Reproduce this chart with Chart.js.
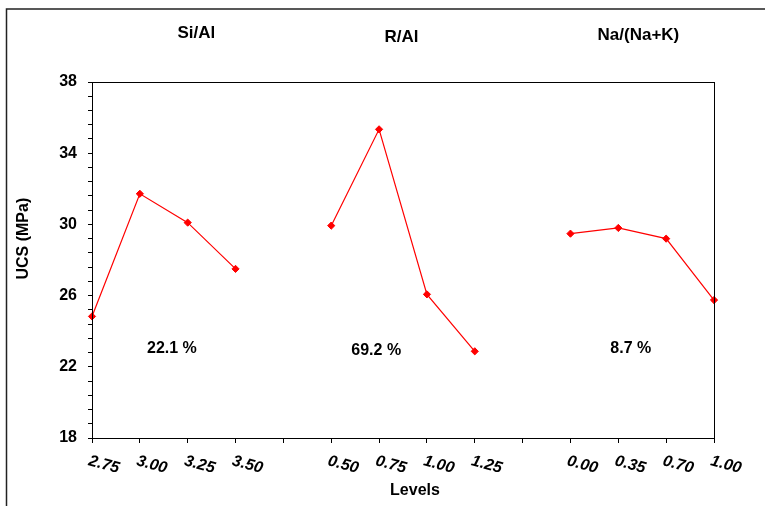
<!DOCTYPE html>
<html>
<head>
<meta charset="utf-8">
<script src="https://cdn.jsdelivr.net/npm/chart.js@4.4.1/dist/chart.umd.min.js"></script>
<style>
  html, body { margin: 0; padding: 0; background: #ffffff; }
  #wrap { width: 765px; height: 506px; position: relative; }
</style>
</head>
<body>
<div id="wrap"><canvas id="c" width="765" height="506"></canvas></div>
<script>
// ---- data ----
const siAlLevels = ['2.75', '3.00', '3.25', '3.50'];
const siAlUcs    = [24.83, 31.72, 30.10, 27.50];
const rAlLevels  = ['0.50', '0.75', '1.00', '1.25'];
const rAlUcs     = [29.93, 35.34, 26.07, 22.87];
const naLevels   = ['0.00', '0.35', '0.70', '1.00'];
const naUcs      = [29.48, 29.80, 29.20, 25.75];
const groupTitles = ['Si/Al', 'R/Al', 'Na/(Na+K)'];
const contributions = ['22.1 %', '69.2 %', '8.7 %'];
const xTitle = 'Levels';
const yTitle = 'UCS (MPa)';

// build category table (a blank slot separates each factor)
const labels = [...siAlLevels, '', ...rAlLevels, '', ...naLevels];
const values = [...siAlUcs, null, ...rAlUcs, null, ...naUcs];

// annotation placements (scale units)
const titleIdx = [2.18, 6.47, 11.42];
const titleY = [33, 37.5, 35];
const pctIdx = [1.67, 5.94, 11.26];
const pctVal = [23.05, 22.9, 23.05];

const FONT = '"Liberation Sans", Arial, sans-serif';

const decor = {
  id: 'decor',
  beforeDraw(chart) {
    const ctx = chart.ctx;
    ctx.save();
    ctx.fillStyle = '#fff';
    ctx.fillRect(0, 0, chart.width, chart.height);
    // outer frame (cropped figure box)
    ctx.strokeStyle = '#222';
    ctx.lineWidth = 1.5;
    ctx.beginPath();
    ctx.moveTo(6.5, chart.height);
    ctx.lineTo(6.5, 9);
    ctx.lineTo(chart.width, 9);
    ctx.stroke();
    ctx.restore();
  },
  afterDraw(chart) {
    const ctx = chart.ctx;
    const a = chart.chartArea;
    const xs = chart.scales.x, ys = chart.scales.y;
    ctx.save();
    // plot box
    ctx.strokeStyle = '#000';
    ctx.lineWidth = 1;
    ctx.strokeRect(a.left + 0.5, a.top + 0.5, a.right - a.left, a.bottom - a.top);
    // x tick labels, rotated, bold italic
    ctx.fillStyle = '#000';
    ctx.font = 'italic bold 16px ' + FONT;
    ctx.textAlign = 'left';
    ctx.textBaseline = 'top';
    labels.forEach((lab, i) => {
      if (!lab) return;
      const x = xs.getPixelForTick(i);
      ctx.save();
      ctx.translate(x - 1, a.bottom + 15);
      ctx.rotate(15 * Math.PI / 180);
      ctx.fillText(lab, 0, 0);
      ctx.restore();
    });
    // group titles
    ctx.font = 'bold 17px ' + FONT;
    ctx.textAlign = 'center';
    ctx.textBaseline = 'middle';
    groupTitles.forEach((t, i) => {
      ctx.fillText(t, xs.getPixelForValue(titleIdx[i]), titleY[i]);
    });
    // contribution percentages
    ctx.font = 'bold 16px ' + FONT;
    contributions.forEach((t, i) => {
      ctx.fillText(t, xs.getPixelForValue(pctIdx[i]), ys.getPixelForValue(pctVal[i]));
    });
    // axis titles
    ctx.font = 'bold 16px ' + FONT;
    ctx.fillText(xTitle, xs.getPixelForValue(6.75), 491);
    ctx.save();
    ctx.translate(24, ys.getPixelForValue(29.2));
    ctx.rotate(-Math.PI / 2);
    ctx.fillText(yTitle, 0, 0);
    ctx.restore();
    ctx.restore();
  }
};

new Chart(document.getElementById('c'), {
  type: 'line',
  data: {
    labels: labels,
    datasets: [{
      data: values,
      borderColor: '#ff0000',
      backgroundColor: '#ff0000',
      borderWidth: 1.2,
      pointStyle: 'rectRot',
      pointRadius: 3.6,
      pointBackgroundColor: '#ff0000',
      pointBorderColor: '#ff0000',
      pointBorderWidth: 1,
      spanGaps: false,
      tension: 0
    }]
  },
  options: {
    responsive: false,
    animation: false,
    devicePixelRatio: 1,
    layout: { padding: { top: 82, right: 51, left: 0, bottom: 0 } },
    plugins: { legend: { display: false }, tooltip: { enabled: false } },
    scales: {
      x: {
        type: 'category',
        offset: false,
        grid: { display: true, drawOnChartArea: false, drawTicks: true, tickLength: 5, color: '#000' },
        border: { display: true, color: '#000', width: 1 },
        ticks: { display: false, autoSkip: false },
        title: { display: false },
        afterFit(s) { s.height = 68; }
      },
      y: {
        min: 18, max: 38,
        grid: { display: true, drawOnChartArea: false, drawTicks: true, tickLength: 4, color: '#000' },
        border: { display: true, color: '#000', width: 1 },
        ticks: {
          stepSize: 0.8,
          autoSkip: false,
          padding: 11,
          color: '#000',
          font: { family: FONT, size: 16, weight: 'bold' },
          callback: (v, i) => (i % 5 === 0 ? String(Math.round(v)) : '')
        },
        title: { display: false },
        afterFit(s) { s.width = 92; }
      }
    }
  },
  plugins: [decor]
});
</script>
</body>
</html>
